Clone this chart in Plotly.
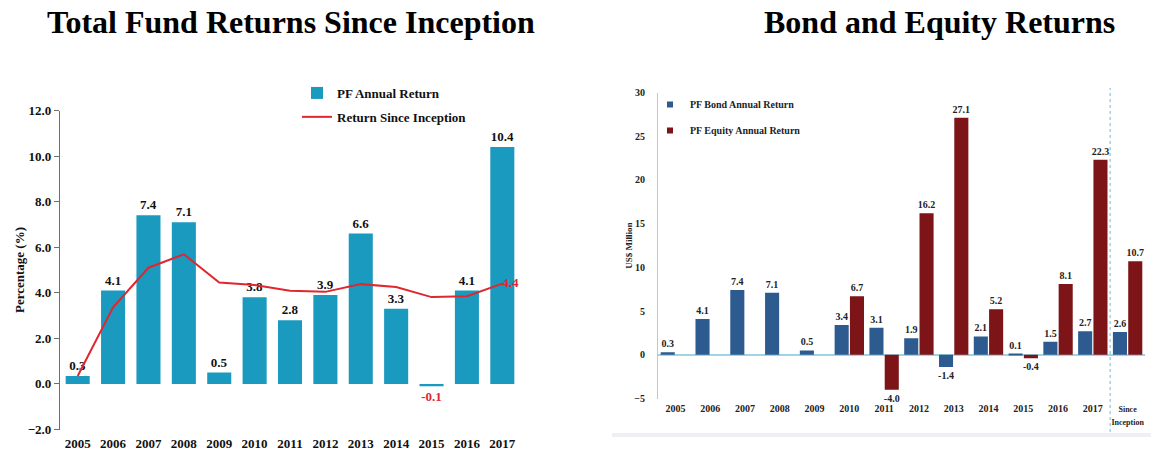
import numpy as np
import plotly.graph_objects as go

# ---------------- data ----------------
years = ["2005", "2006", "2007", "2008", "2009", "2010", "2011",
         "2012", "2013", "2014", "2015", "2016", "2017"]
pf_annual = [0.35, 4.1, 7.4, 7.1, 0.5, 3.8, 2.8, 3.9, 6.6, 3.3, -0.1, 4.1, 10.4]
pf_annual_labels = ["0.3", "4.1", "7.4", "7.1", "0.5", "3.8", "2.8", "3.9",
                    "6.6", "3.3", "-0.1", "4.1", "10.4"]
since_inception = [0.35, 3.36, 5.1, 5.69, 4.45, 4.34, 4.09, 4.04, 4.38, 4.25,
                   3.81, 3.85, 4.4]

cats2 = years + ["Since Inception"]
bond = [0.3, 4.1, 7.4, 7.1, 0.5, 3.4, 3.1, 1.9, -1.4, 2.1, 0.1, 1.5, 2.7, 2.6]
equity = [None, None, None, None, None, 6.7, -4.0, 16.2, 27.1, 5.2, -0.4,
          8.1, 22.3, 10.7]

left_ticks = [-2.0, 0.0, 2.0, 4.0, 6.0, 8.0, 10.0, 12.0]
right_ticks = [-5, 0, 5, 10, 15, 20, 25, 30]

# ---------------- style ----------------
W, H = 1151, 454
SERIF = "Liberation Serif, Times New Roman, serif"
TEAL = "#1b9ac0"
RED_LINE = "#e0262e"
BOND = "#2d5b90"
EQUITY = "#7d1518"
LIGHTBLUE = "#9fd4e4"

L_DOM_X = [60 / W, 520 / W]
L_DOM_Y = [1 - 429.5 / H, 1 - 110.5 / H]
R_DOM_X = [658 / W, 1145 / W]
R_DOM_Y = [1 - 398.5 / H, 1 - 92.5 / H]

fig = go.Figure()

# ---- left chart ----
fig.add_trace(go.Bar(
    x=years, y=pf_annual, name="PF Annual Return",
    marker=dict(color=TEAL, line=dict(width=0)), width=0.68,
    text=pf_annual_labels, textposition="outside", cliponaxis=False,
    constraintext="none",
    textfont=dict(family=SERIF, size=13, weight="bold",
                  color=["#e0262e" if v < 0 else "#111111" for v in pf_annual]),
    xaxis="x", yaxis="y", legend="legend", legendgroup="a",
))
line_text = [""] * (len(since_inception) - 1) + ["4.4"]
fig.add_trace(go.Scatter(
    x=years, y=since_inception, name="Return Since Inception",
    mode="lines+text", line=dict(color=RED_LINE, width=2),
    text=line_text, textposition="middle right", cliponaxis=False,
    textfont=dict(family=SERIF, size=13, color="#e0262e", weight="bold"),
    xaxis="x", yaxis="y", legend="legend", legendgroup="b",
))

# ---- right chart ----
fig.add_trace(go.Bar(
    x=cats2, y=bond, name="PF Bond Annual Return", showlegend=False,
    marker=dict(color=BOND, line=dict(width=0)),
    text=[f"{v:.1f}" for v in bond], textposition="outside", cliponaxis=False,
    constraintext="none",
    textfont=dict(family=SERIF, size=10, color="#222222", weight="bold"),
    xaxis="x2", yaxis="y2",
))
fig.add_trace(go.Bar(
    x=cats2, y=equity, name="PF Equity Annual Return", showlegend=False,
    marker=dict(color=EQUITY, line=dict(width=0)),
    text=["" if v is None else f"{v:.1f}" for v in equity],
    textposition="outside", cliponaxis=False, constraintext="none",
    textfont=dict(family=SERIF, size=10, color="#222222", weight="bold"),
    xaxis="x2", yaxis="y2",
))
# small-square legend entries for the right chart
for nm, col, grp in [("PF Bond Annual Return", BOND, "c"),
                     ("PF Equity Annual Return", EQUITY, "d")]:
    fig.add_trace(go.Scatter(
        x=[None], y=[None], mode="markers", name=nm,
        marker=dict(symbol="square", size=6, color=col),
        xaxis="x2", yaxis="y2", legend="legend2", legendgroup=grp,
    ))

n = len(years)
boundaries = list(np.arange(n + 1) - 0.5)

ticktext2 = years + ["<span style='font-size:8px'>Since<br>Inception</span>"]
bold13 = dict(family=SERIF, size=13, color="#111111", weight="bold")
bold10 = dict(family=SERIF, size=10, color="#222222", weight="bold")

fig.update_layout(
    width=W, height=H, autosize=False,
    margin=dict(l=0, r=0, t=0, b=0, autoexpand=False),
    paper_bgcolor="white", plot_bgcolor="rgba(0,0,0,0)",
    font=dict(family=SERIF, color="#111111"),
    barmode="group",
    bargap=0.12, bargroupgap=0.08,
    xaxis=dict(domain=L_DOM_X, anchor="y", type="category", automargin=False,
               range=[-0.5, n - 0.5], showline=False, showgrid=False,
               ticks="", tickfont=bold13, ticklabelstandoff=4, fixedrange=True),
    xaxis3=dict(domain=L_DOM_X, overlaying="x", anchor="free", automargin=False,
                position=L_DOM_Y[0] + (0 - left_ticks[0]) / (left_ticks[-1] - left_ticks[0]) * (L_DOM_Y[1] - L_DOM_Y[0]),
                range=[-0.5, n - 0.5], tickvals=boundaries, ticks="outside",
                ticklen=5, tickcolor="#6e6e6e", showticklabels=False,
                showline=True, linecolor="#6e6e6e", linewidth=1.2, showgrid=False,
                zeroline=False),
    yaxis=dict(domain=L_DOM_Y, anchor="x", range=[left_ticks[0], left_ticks[-1]],
               automargin=False,
               tickvals=left_ticks, tickformat=".1f", showgrid=False,
               zeroline=False, showline=True, linecolor="#6e6e6e", linewidth=1.2,
               ticks="outside", ticklen=5, tickcolor="#6e6e6e",
               tickfont=bold13,
               title=dict(text="Percentage (%)", standoff=0, font=bold13)),
    xaxis2=dict(domain=R_DOM_X, anchor="y2", type="category", automargin=False,
                range=[-0.5, len(cats2) - 0.5], showline=False, showgrid=False,
                tickvals=cats2, ticktext=ticktext2, ticks="",
                tickfont=bold10, ticklabelstandoff=2, ticklabeloverflow="allow"),
    yaxis2=dict(domain=R_DOM_Y, anchor="x2", range=[right_ticks[0], right_ticks[-1]],
                automargin=False,
                tickvals=right_ticks, showgrid=False, zeroline=True,
                zerolinecolor=LIGHTBLUE, zerolinewidth=1.5,
                showline=True, linecolor=LIGHTBLUE, linewidth=1.2, ticks="",
                tickfont=bold10, ticklabelstandoff=10,
                title=dict(text="US$ Million", standoff=0,
                           font=dict(family=SERIF, size=9, color="#222222", weight="bold"))),
    legend=dict(x=297 / W, y=1 - 78 / H, xanchor="left", yanchor="top",
                bgcolor="rgba(0,0,0,0)", itemwidth=30, tracegroupgap=4,
                font=bold13),
    legend2=dict(x=650 / W, y=1 - 90 / H, xanchor="left", yanchor="top",
                 bgcolor="rgba(0,0,0,0)", itemwidth=30, tracegroupgap=7,
                 font=bold10),
    annotations=[
        dict(text="<b>Total Fund Returns Since Inception</b>", x=291 / W, y=1 - 22 / H,
             xref="paper", yref="paper", xanchor="center", yanchor="middle",
             showarrow=False, font=dict(family=SERIF, size=32, color="#000000")),
        dict(text="<b>Bond and Equity Returns</b>", x=939 / W, y=1 - 22 / H,
             xref="paper", yref="paper", xanchor="center", yanchor="middle",
             showarrow=False, font=dict(family=SERIF, size=32, color="#000000")),
    ],
    shapes=[
        dict(type="line", xref="x2", yref="paper", x0=len(years) - 0.5, x1=len(years) - 0.5,
             y0=1 - 432 / H, y1=1 - 88 / H,
             line=dict(color=LIGHTBLUE, width=1.5, dash="dot")),
        dict(type="line", xref="paper", yref="paper", x0=612 / W, x1=1.0,
             y0=1 - 435 / H, y1=1 - 435 / H,
             line=dict(color="#eef0f3", width=4)),
    ],
    showlegend=True,
)

fig.write_html(
    "out.html",
    config={"displayModeBar": False},
    post_script="document.body.style.margin='0';document.body.style.overflow='hidden';",
)
